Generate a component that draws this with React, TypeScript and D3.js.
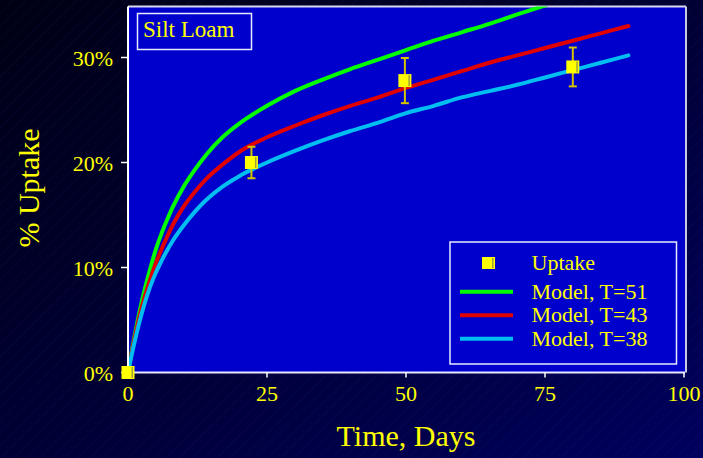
import React from "react";
import * as d3 from "d3";

const W = 703;
const H = 458;

// Model curves: [day, % uptake]
const greenT51: [number, number][] = [
  [0, 0], [1, 3.0], [2, 5.6], [3, 7.9], [4, 9.9], [5, 11.7], [6, 13.2], [7, 14.5], [8, 15.7],
  [10, 17.7], [12, 19.3], [14, 20.7], [17, 22.4], [20, 23.7], [25, 25.4], [30, 26.8],
  [35, 27.9], [40, 28.9], [45, 29.8], [50, 30.7], [55, 31.6], [60, 32.4], [65, 33.2],
  [70, 34.1], [75.3, 35.0],
];
const redT43: [number, number][] = [
  [0, 0], [1, 2.8], [2, 5.2], [3, 7.2], [4, 8.9], [5, 10.4], [6, 11.7], [7, 12.9], [8, 14.0],
  [10, 15.8], [12, 17.2], [14, 18.4], [17, 19.8], [20, 21.0], [25, 22.4], [30, 23.5],
  [35, 24.5], [40, 25.4], [45, 26.2], [50, 27.1], [55, 27.9], [60, 28.7], [65, 29.5],
  [70, 30.2], [75, 30.9], [80, 31.6], [85, 32.3], [90, 33.0],
];
const blueT38: [number, number][] = [
  [0, 0], [1, 2.5], [2, 4.7], [3, 6.6], [4, 8.2], [5, 9.5], [6, 10.6], [7, 11.6], [8, 12.5],
  [10, 14.0], [12, 15.3], [14, 16.4], [17, 17.7], [20, 18.7], [22, 19.25], [25, 20.0],
  [30, 21.1], [35, 22.1], [40, 23.0], [45, 23.8], [50, 24.7], [55, 25.4], [60, 26.2],
  [65, 26.8], [70, 27.4], [75, 28.1], [80, 28.8], [85, 29.5], [90, 30.2],
];

// Measured uptake with error bars
const obsDays = [0, 22.2, 49.8, 80];
const obsUptake = [0, 20.0, 27.8, 29.1];
const obsErr = [0, 1.5, 2.15, 1.85];

const xTicks = [0, 25, 50, 75, 100];
const yTicks = [0, 10, 20, 30];

const legendLabels = ["Uptake", "Model, T=51", "Model, T=43", "Model, T=38"];
const seriesColors = ["#00FF00", "#E00000", "#00BFF0"];
const series = [greenT51, redT43, blueT38];

const FONT = "'Liberation Serif', 'Times New Roman', serif";
const YELLOW = "#FFFF00";

export default function App() {
  const x = d3.scaleLinear().domain([0, 100]).range([128, 684]);
  const y = d3.scaleLinear().domain([0, 35]).range([372.5, 5]);
  const line = d3
    .line<[number, number]>()
    .x((d) => x(d[0]))
    .y((d) => y(d[1]))
    .curve(d3.curveMonotoneX);

  const plotL = 128, plotT = 6.5, plotR = 686, plotB = 372.5;

  return (
    <svg
      width={W}
      height={H}
      style={{ position: "absolute", left: 0, top: 0, display: "block" }}
      fontFamily={FONT}
    >
      <defs>
        <linearGradient id="bg" x1="0" y1="0" x2="1" y2="1">
          <stop offset="0" stopColor="#000014" />
          <stop offset="0.5" stopColor="#000034" />
          <stop offset="1" stopColor="#00005E" />
        </linearGradient>
        <pattern id="hatch" width="9" height="9" patternUnits="userSpaceOnUse" patternTransform="rotate(45)">
          <line x1="0" y1="0" x2="0" y2="9" stroke="#3030A0" strokeWidth="1" strokeOpacity="0.18" />
        </pattern>
        <clipPath id="plotClip">
          <rect x={plotL} y={plotT} width={plotR - plotL} height={plotB - plotT + 8} />
        </clipPath>
      </defs>
      <rect x={0} y={0} width={W} height={H} fill="url(#bg)" />
      <rect x={0} y={0} width={W} height={H} fill="url(#hatch)" />

      {/* plot area */}
      <rect x={plotL} y={plotT} width={plotR - plotL} height={plotB - plotT} fill="#0000CC" />
      <line x1={plotL} y1={plotT} x2={plotR} y2={plotT} stroke="#D8D8F0" strokeWidth={2} />
      <line x1={plotR} y1={plotT} x2={plotR} y2={plotB} stroke="#C8C8E0" strokeWidth={2} />

      {/* Silt Loam box */}
      <rect x={137.5} y={13.5} width={114} height={36} fill="none" stroke="#E8E8FF" strokeWidth={1.5} />
      <text x={143} y={36.5} fontSize={23} fill={YELLOW}>Silt Loam</text>

      {/* model curves */}
      <g clipPath="url(#plotClip)">
        {series.map((s, i) => (
          <path key={i} d={line(s) || ""} fill="none" stroke={seriesColors[i]} strokeWidth={4} strokeLinecap="round" />
        ))}
      </g>

      {/* axes */}
      <line x1={plotL} y1={plotT} x2={plotL} y2={plotB + 1} stroke="#FFFFFF" strokeWidth={2} />
      <line x1={plotL} y1={plotB} x2={685} y2={plotB} stroke="#E8E8FF" strokeWidth={2} />
      {yTicks.map((t) => (
        <g key={"y" + t}>
          <line x1={121} x2={127} y1={y(t)} y2={y(t)} stroke="#FFFFFF" strokeWidth={1.5} />
          <text x={113} y={y(t) + 8} textAnchor="end" fontSize={22} fill={YELLOW}>{t}%</text>
        </g>
      ))}
      {xTicks.map((t) => (
        <g key={"x" + t}>
          <line x1={x(t)} x2={x(t)} y1={plotB} y2={plotB + 5} stroke="#FFFFFF" strokeWidth={1.5} />
          <text x={x(t)} y={401} textAnchor="middle" fontSize={22} fill={YELLOW}>{t}</text>
        </g>
      ))}
      <text x={406} y={446} textAnchor="middle" fontSize={30} fill={YELLOW}>Time, Days</text>
      <text
        transform={`translate(39,188) rotate(-90)`}
        textAnchor="middle"
        fontSize={30}
        fill={YELLOW}
      >
        % Uptake
      </text>

      {/* observations */}
      {obsDays.map((d, i) => (
        <g key={"o" + i}>
          {obsErr[i] > 0 && (
            <g stroke="#D4C400" strokeWidth={2}>
              <line x1={x(d)} x2={x(d)} y1={y(obsUptake[i] + obsErr[i])} y2={y(obsUptake[i] - obsErr[i])} />
              <line x1={x(d) - 4} x2={x(d) + 4} y1={y(obsUptake[i] + obsErr[i])} y2={y(obsUptake[i] + obsErr[i])} />
              <line x1={x(d) - 4} x2={x(d) + 4} y1={y(obsUptake[i] - obsErr[i])} y2={y(obsUptake[i] - obsErr[i])} />
            </g>
          )}
          <rect x={x(d) - 6.5} y={y(obsUptake[i]) - 6.5} width={13} height={13} fill={YELLOW} />
          <rect x={x(d) + 3.5} y={y(obsUptake[i]) - 5.5} width={1.5} height={11} fill="#A0A040" />
        </g>
      ))}

      {/* legend */}
      <rect x={450} y={242} width={226.5} height={122} fill="#0000CC" stroke="#E8E8FF" strokeWidth={1.5} />
      <rect x={482} y={257} width={13} height={12} fill={YELLOW} />
      <rect x={492} y={258} width={1.5} height={10} fill="#A0A040" />
      <text x={531.5} y={269.5} fontSize={22} fill={YELLOW}>{legendLabels[0]}</text>
      {seriesColors.map((c, i) => (
        <g key={"l" + i}>
          <line x1={460} x2={513} y1={291.7 + i * 23.5} y2={291.7 + i * 23.5} stroke={c} strokeWidth={4} />
          <text x={531.5} y={298.5 + i * 23.7} fontSize={22} fill={YELLOW}>{legendLabels[i + 1]}</text>
        </g>
      ))}
    </svg>
  );
}
